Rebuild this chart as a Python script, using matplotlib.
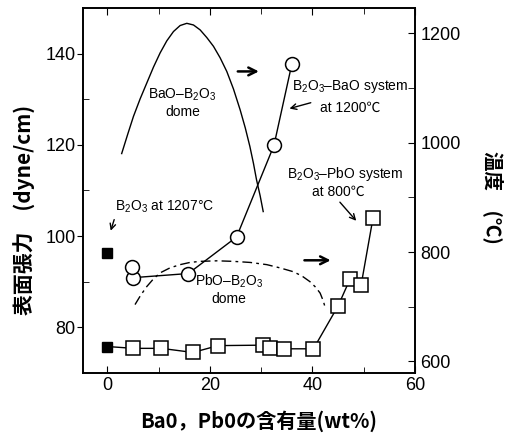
import matplotlib
matplotlib.use("Agg")
import matplotlib.pyplot as plt

plt.rcParams['font.family'] = ['Liberation Sans', 'Noto Sans CJK JP']
plt.rcParams['mathtext.fontset'] = 'custom'
plt.rcParams['mathtext.rm'] = 'Liberation Sans'
plt.rcParams['mathtext.it'] = 'Liberation Sans'

# B2O3-BaO system at 1200C (surface tension, left axis)
bao_x = [5.1, 15.8, 25.2, 32.5, 36.0]
bao_st = [90.9, 91.8, 99.8, 119.9, 137.8]
bao_extra_x = [4.8]
bao_extra_st = [93.3]

# B2O3-PbO system at 800C (surface tension, left axis)
pbo_x = [0, 5.1, 10.5, 16.7, 21.6, 30.4, 31.7, 34.5, 40.2, 45.0, 47.3, 49.5, 51.8]
pbo_st = [75.8, 75.4, 75.4, 74.5, 76.0, 76.1, 75.4, 75.3, 75.3, 84.7, 90.5, 89.3, 103.9]

# pure B2O3 at 1207C
b2o3_x = [0]
b2o3_st = [96.2]

# BaO-B2O3 dome (temperature, right axis)
bdome_x = [2.8, 4.0, 5.1, 6.4, 7.7, 9.0, 10.3, 11.6, 12.9, 14.2, 15.5, 16.8, 18.1,
           19.4, 20.7, 22.0, 23.3, 24.6, 25.9, 26.9, 27.8, 28.5, 29.1, 29.8, 30.4]
bdome_t = [980, 1016, 1048, 1080, 1109, 1138, 1164, 1186, 1203, 1214, 1218, 1215, 1206,
           1192, 1176, 1155, 1130, 1098, 1060, 1027, 993, 962, 932, 903, 874]

# PbO-B2O3 dome (temperature, right axis)
pdome_x = [5.4, 6.5, 7.7, 9.0, 10.3, 12.2, 14.2, 16.1, 18.1, 21.4, 24.6, 27.9, 31.1,
           33.7, 36.3, 38.0, 39.5, 40.6, 41.5, 42.1, 42.6]
pdome_t = [704, 721, 737, 751, 762, 771, 777, 781, 783, 784, 783, 781, 777,
           771, 764, 756, 746, 736, 725, 711, 695]

fig = plt.figure(figsize=(5.15, 4.33), dpi=100)
ax = fig.add_axes([0.1606, 0.1386, 0.6452, 0.8429])
ax2 = ax.twinx()

ax.plot(bao_x, bao_st, '-', color='black', lw=1.0, marker='o', ms=10,
        mfc='white', mec='black', mew=1.1, zorder=3)
ax.plot(bao_extra_x, bao_extra_st, 'o', ms=10, mfc='white', mec='black', mew=1.1, zorder=3)
ax.plot(pbo_x[1:], pbo_st[1:], '-', color='black', lw=1.0, marker='s', ms=9.5,
        mfc='white', mec='black', mew=1.1, zorder=3)
ax.plot(pbo_x[:2], pbo_st[:2], '-', color='black', lw=1.0, zorder=2)
ax.plot(pbo_x[:1], pbo_st[:1], 's', ms=7, color='black', zorder=4)
ax.plot(b2o3_x, b2o3_st, 's', ms=7, color='black', zorder=4)

ax2.plot(bdome_x, bdome_t, '-', color='black', lw=1.0)
ax2.plot(pdome_x, pdome_t, color='black', lw=1.0, linestyle=(0, (7, 3, 2, 3)))

ax.set_xlim(-4.8, 60)
ax.set_ylim(70, 150)
ax2.set_ylim(579, 1246)

ax.set_xticks([0, 20, 40, 60])
ax.set_xticks([10, 30, 50], minor=True)
ax.set_yticks([80, 100, 120, 140])
ax.set_yticks([90, 110, 130], minor=True)
ax2.set_yticks([600, 800, 1000, 1200])
ax2.set_yticks([700, 900, 1100], minor=True)

ax.tick_params(axis='x', which='both', direction='in', top=True, labelsize=13, pad=3)
ax.tick_params(axis='x', which='major', length=5)
ax.tick_params(axis='x', which='minor', length=4)
ax.tick_params(axis='y', which='major', direction='out', length=4, labelsize=13, pad=1)
ax.tick_params(axis='y', which='minor', direction='in', length=4)
ax2.tick_params(axis='y', which='both', direction='in', length=5, labelsize=13, pad=4)

for a in (ax, ax2):
    for s in a.spines.values():
        s.set_linewidth(1.2)

# annotations
ax.text(14.7, 131.0, 'BaO–B$_2$O$_3$', ha='center', va='center', fontsize=10)
ax.text(14.7, 127.2, 'dome', ha='center', va='center', fontsize=10)
ax.text(47.3, 132.9, 'B$_2$O$_3$–BaO system', ha='center', va='center', fontsize=10)
ax.text(47.3, 128.2, 'at 1200℃', ha='center', va='center', fontsize=10)
ax.text(46.4, 113.7, 'B$_2$O$_3$–PbO system', ha='center', va='center', fontsize=10)
ax.text(45.0, 109.6, 'at 800℃', ha='center', va='center', fontsize=10)
ax.text(11.1, 106.4, 'B$_2$O$_3$ at 1207°C', ha='center', va='center', fontsize=10)
ax.text(23.7, 90.1, 'PbO–B$_2$O$_3$', ha='center', va='center', fontsize=10)
ax.text(23.7, 86.3, 'dome', ha='center', va='center', fontsize=10)

arrow = dict(arrowstyle='->', color='black', lw=1.0)
ax.annotate('', xy=(35.0, 127.8), xytext=(40.2, 129.4), arrowprops=arrow)
ax.annotate('', xy=(48.9, 102.9), xytext=(45.0, 107.9), arrowprops=arrow)
ax.annotate('', xy=(0.5, 100.6), xytext=(1.5, 104.2), arrowprops=arrow)

# arrows pointing to the temperature axis
big = dict(arrowstyle='->', color='black', lw=1.8, mutation_scale=14)
ax.annotate('', xy=(30.1, 136.1), xytext=(24.9, 136.1), arrowprops=big)
ax.annotate('', xy=(44.1, 94.7), xytext=(37.9, 94.7), arrowprops=big)

fig.text(25 / 515, 1 - 210 / 433, '表面張力　(dyne/cm)', rotation=90, ha='center', va='center',
         fontsize=15, fontweight='bold', family=['Noto Sans CJK JP'])
fig.text(493 / 515, 1 - 197 / 433, '温度　(℃)', rotation=-90, ha='center', va='center',
         fontsize=14, fontweight='bold', family=['Noto Sans CJK JP'])
fig.text(259 / 515, 1 - 421 / 433, 'Ba0，Pb0の含有量(wt%)', ha='center', va='center',
         fontsize=14.5, fontweight='bold', family=['Noto Sans CJK JP'])

plt.savefig('out.png', dpi=100)
